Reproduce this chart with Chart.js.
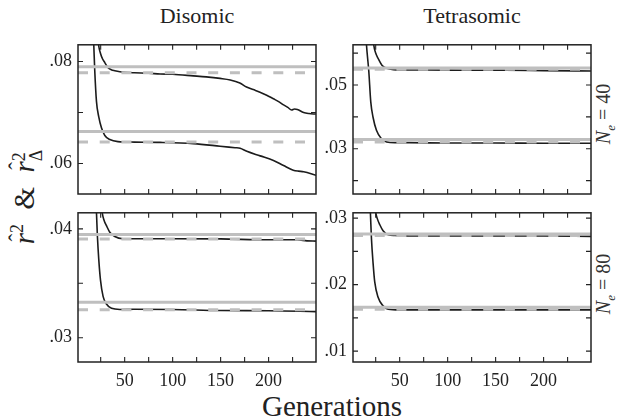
<!DOCTYPE html>
<html><head><meta charset="utf-8">
<script src="https://cdn.jsdelivr.net/npm/chart.js@4.4.1/dist/chart.umd.min.js"></script>
<style>
html,body{margin:0;padding:0;background:#fff;}
body{width:618px;height:418px;position:relative;overflow:hidden;color:#222;}
canvas{position:absolute;}
.t{position:absolute;white-space:nowrap;line-height:1;font-family:'Liberation Serif';}
.rot{transform:translate(-50%,-50%) rotate(-90deg);}
.hat{position:relative;display:inline-block;font-style:italic;}
.hat::before{content:"\02C6";position:absolute;left:0.12em;top:-0.3em;font-style:normal;font-size:0.8em;}
</style></head><body style="font-family:'Liberation Serif'">
<div class="t" id="tDis" style="left:197px;top:5px;font-size:22px;transform:translateX(-50%)">Disomic</div>
<div class="t" id="tTet" style="left:472px;top:5px;font-size:22px;transform:translateX(-50%)">Tetrasomic</div>
<div class="t" id="tGen" style="left:332px;top:392px;font-size:29px;transform:translateX(-50%)">Generations</div>
<div class="t rot" id="tY" style="left:24px;top:197px;font-size:29px;line-height:29px;"><span class="hat">r</span><span style="font-size:0.62em;vertical-align:0.6em">2</span>&nbsp;&nbsp;&amp;&nbsp;&nbsp;<span class="hat">r</span><span style="display:inline-block;font-size:0.62em;line-height:0.95;vertical-align:-0.45em;text-align:left">2<br>&Delta;</span></div>
<div class="t rot" id="tN40" style="left:607px;top:114px;font-size:20px;line-height:20px;color:#333"><i>N</i><sub style="font-size:0.65em"><i>e</i></sub> = 40</div>
<div class="t rot" id="tN80" style="left:607px;top:284px;font-size:20px;line-height:20px;color:#333"><i>N</i><sub style="font-size:0.65em"><i>e</i></sub> = 80</div>

<canvas id="cTL"></canvas><canvas id="cTR"></canvas><canvas id="cBL"></canvas><canvas id="cBR"></canvas>
<script>
// ---------- data ----------
const xMin = 1.36, xMax = 249.4;
const xTicks = [25, 50, 75, 100, 125, 150, 175, 200, 225];
const xLabels = [50, 100, 150, 200];

// Disomic, Ne = 40
const dis40HiGen = [21, 22.8, 25, 27, 29.3, 32.7, 36, 39.7, 45, 50, 60, 75, 87, 100, 121.5, 135, 149.4, 160, 170, 177, 184, 191, 198, 205, 210, 215.6, 220, 224, 227, 230, 236.5, 242, 249.4];
const dis40HiVal = [0.0875, 0.0833, 0.0815, 0.0805, 0.0798, 0.0788, 0.0784, 0.0782, 0.0780, 0.0779, 0.0778, 0.0777, 0.07757, 0.0775, 0.0772, 0.0770, 0.0767, 0.0764, 0.0758, 0.0750, 0.0745, 0.0740, 0.0734, 0.0727, 0.0722, 0.0715, 0.0710, 0.0705, 0.0707, 0.0706, 0.0700, 0.0698, 0.0697];
const dis40LoGen = [17, 17.8, 18.8, 20.6, 23, 25.8, 29.3, 34.5, 43, 60, 87, 121.5, 149.4, 165, 170.3, 177.3, 191.2, 205.1, 215.6, 225.7, 231, 236.5, 249.4];
const dis40LoVal = [0.0870, 0.0833, 0.0783, 0.0722, 0.06915, 0.0670, 0.0655, 0.0647, 0.0643, 0.0642, 0.06414, 0.0639, 0.0634, 0.0631, 0.0630, 0.0624, 0.0615, 0.0606, 0.0596, 0.0587, 0.0585, 0.0584, 0.0577];
const dis40Solid = [0.0790, 0.0663];
const dis40Dashed = [0.0778, 0.0642];
const dis40Range = [0.05402, 0.08329];
const dis40YTicks = [0.06, 0.07, 0.08];
const dis40YLabels = [0.06, 0.08];

// Tetrasomic, Ne = 40
const tet40HiGen = [22, 23, 25, 27.6, 31.3, 36.5, 43.4, 60, 80, 120, 160, 200, 249.4];
const tet40HiVal = [0.0660, 0.0626, 0.0600, 0.0583, 0.0563, 0.0552, 0.0548, 0.0547, 0.0547, 0.0546, 0.0546, 0.0545, 0.0544];
const tet40LoGen = [14.6, 15.4, 17.8, 19.9, 22.3, 25.8, 31, 36.3, 45, 60, 100, 150, 200, 249.4];
const tet40LoVal = [0.0670, 0.0626, 0.0544, 0.0446, 0.0398, 0.0358, 0.0331, 0.0321, 0.0319, 0.0319, 0.0318, 0.0318, 0.0317, 0.0317];
const tet40Solid = [0.0553, 0.0329];
const tet40Dashed = [0.0549, 0.0321];
const tet40Range = [0.0158, 0.0626];
const tet40YTicks = [0.02, 0.03, 0.04, 0.05, 0.06];
const tet40YLabels = [0.03, 0.05];

// Disomic, Ne = 80
const dis80HiGen = [25.5, 26.6, 28.5, 31, 34.5, 39.7, 48, 60, 100, 150, 200, 230, 240, 249.4];
const dis80HiVal = [0.0425, 0.0415, 0.0408, 0.0403, 0.0397, 0.0393, 0.0391, 0.0391, 0.0391, 0.03908, 0.0390, 0.0390, 0.0389, 0.03888];
const dis80LoGen = [19.8, 20.6, 21.6, 23, 24.8, 27.5, 31, 36.3, 45, 60, 100, 150, 200, 249.4];
const dis80LoVal = [0.0430, 0.0415, 0.0393, 0.0372, 0.0353, 0.0338, 0.0331, 0.0327, 0.0326, 0.03262, 0.0326, 0.0325, 0.03248, 0.0324];
const dis80Solid = [0.03949, 0.03327];
const dis80Dashed = [0.03908, 0.03257];
const dis80Range = [0.02777, 0.04148];
const dis80YTicks = [0.03, 0.035, 0.04];
const dis80YLabels = [0.03, 0.04];

// Tetrasomic, Ne = 80
const tet80HiGen = [24, 25.1, 26.5, 29.3, 32.7, 38, 45, 60, 100, 150, 200, 249.4];
const tet80HiVal = [0.0320, 0.0308, 0.0300, 0.0290, 0.0281, 0.0275, 0.0274, 0.0273, 0.0273, 0.0273, 0.0273, 0.02725];
const tet80LoGen = [18.8, 19.5, 20.6, 22.3, 24, 27.5, 32.7, 38, 50, 100, 150, 200, 249.4];
const tet80LoVal = [0.0330, 0.0308, 0.0269, 0.0232, 0.0204, 0.0181, 0.0168, 0.0163, 0.0162, 0.0162, 0.0162, 0.0162, 0.0162];
const tet80Solid = [0.0276, 0.0166];
const tet80Dashed = [0.0274, 0.0163];
const tet80Range = [0.00836, 0.0308];
const tet80YTicks = [0.01, 0.015, 0.02, 0.025, 0.03];
const tet80YLabels = [0.01, 0.02, 0.03];

// ---------- drawing ----------
const PW = 238, PH = 160;
const padL = 60, padT = 6, padR = 6, padB = 38;
Chart.defaults.font.family = "'Liberation Serif'";
const FONT = {family: "'Liberation Serif'", size: 18};

const framePlugin = {
  id: 'frame',
  afterDatasetsDraw(chart, args, opts) {
    const {ctx, chartArea: a, scales} = chart;
    const x = scales.x, y = scales.y, L = 5;
    ctx.save();
    ctx.strokeStyle = '#222';
    ctx.lineWidth = 1.1;
    ctx.beginPath();
    opts.xt.forEach(v => {
      const p = x.getPixelForValue(v);
      ctx.moveTo(p, a.bottom); ctx.lineTo(p, a.bottom - L);
      ctx.moveTo(p, a.top); ctx.lineTo(p, a.top + L);
    });
    opts.yt.forEach(v => {
      const p = y.getPixelForValue(v);
      ctx.moveTo(a.left, p); ctx.lineTo(a.left + L, p);
      ctx.moveTo(a.right, p); ctx.lineTo(a.right - L, p);
    });
    ctx.stroke();
    ctx.lineWidth = 1.5;
    ctx.strokeRect(a.left, a.top, a.right - a.left, a.bottom - a.top);
    ctx.restore();
  }
};

function fmt(v) { return v.toFixed(2).replace(/^0/, ''); }
function near(list, v) { return list.some(t => Math.abs(t - v) < 1e-9); }

function refLine(v, dashed) {
  return {
    data: [{x: xMin, y: v}, {x: xMax, y: v}],
    borderColor: '#bfbfbf', borderWidth: 3, borderDash: dashed ? [10, 11.7] : [],
    pointRadius: 0, clip: 0, borderCapStyle: 'butt'
  };
}
function curve(gen, val) {
  return {
    data: gen.map((g, i) => ({x: g, y: val[i]})),
    borderColor: '#1c1c1c', borderWidth: 1.6, pointRadius: 0,
    cubicInterpolationMode: 'monotone', clip: 0
  };
}

function panel(id, left, top, bottomRow, p) {
  const cv = document.getElementById(id);
  cv.width = PW + padL + padR; cv.height = PH + padT + padB;
  cv.style.left = (left - padL) + 'px'; cv.style.top = (top - padT) + 'px';
  const ds = [];
  p.solid.forEach(v => ds.push(refLine(v, false)));
  p.dashed.forEach(v => ds.push(refLine(v, true)));
  ds.push(curve(p.hiGen, p.hiVal));
  ds.push(curve(p.loGen, p.loVal));
  new Chart(cv, {
    type: 'line',
    data: {datasets: ds},
    plugins: [framePlugin],
    options: {
      responsive: false, animation: false, devicePixelRatio: 1,
      layout: {padding: {left: 0, top: padT, right: padR, bottom: 0}},
      plugins: {legend: {display: false}, tooltip: {enabled: false}, frame: {xt: xTicks, yt: p.yTicks}},
      scales: {
        x: {
          type: 'linear', min: xMin, max: xMax,
          grid: {display: false, drawTicks: false}, border: {display: false},
          afterBuildTicks: s => { s.ticks = xTicks.map(v => ({value: v})); },
          afterFit: s => { s.height = padB; },
          ticks: {display: bottomRow, autoSkip: false, maxRotation: 0, padding: 8, color: '#222', font: FONT,
                  callback: v => near(xLabels, v) ? String(v) : ''}
        },
        y: {
          type: 'linear', min: p.range[0], max: p.range[1],
          grid: {display: false, drawTicks: false}, border: {display: false},
          afterBuildTicks: s => { s.ticks = p.yTicks.map(v => ({value: v})); },
          afterFit: s => { s.width = padL; },
          ticks: {autoSkip: false, padding: 6, color: '#222', font: FONT,
                  callback: v => near(p.yLabels, v) ? fmt(v) : ''}
        }
      }
    }
  });
}

panel('cTL', 78, 34, false, {hiGen: dis40HiGen, hiVal: dis40HiVal, loGen: dis40LoGen, loVal: dis40LoVal,
  solid: dis40Solid, dashed: dis40Dashed, range: dis40Range, yTicks: dis40YTicks, yLabels: dis40YLabels});
panel('cTR', 353, 34, false, {hiGen: tet40HiGen, hiVal: tet40HiVal, loGen: tet40LoGen, loVal: tet40LoVal,
  solid: tet40Solid, dashed: tet40Dashed, range: tet40Range, yTicks: tet40YTicks, yLabels: tet40YLabels});
panel('cBL', 78, 202, true, {hiGen: dis80HiGen, hiVal: dis80HiVal, loGen: dis80LoGen, loVal: dis80LoVal,
  solid: dis80Solid, dashed: dis80Dashed, range: dis80Range, yTicks: dis80YTicks, yLabels: dis80YLabels});
panel('cBR', 353, 202, true, {hiGen: tet80HiGen, hiVal: tet80HiVal, loGen: tet80LoGen, loVal: tet80LoVal,
  solid: tet80Solid, dashed: tet80Dashed, range: tet80Range, yTicks: tet80YTicks, yLabels: tet80YLabels});
</script>
</body></html>
